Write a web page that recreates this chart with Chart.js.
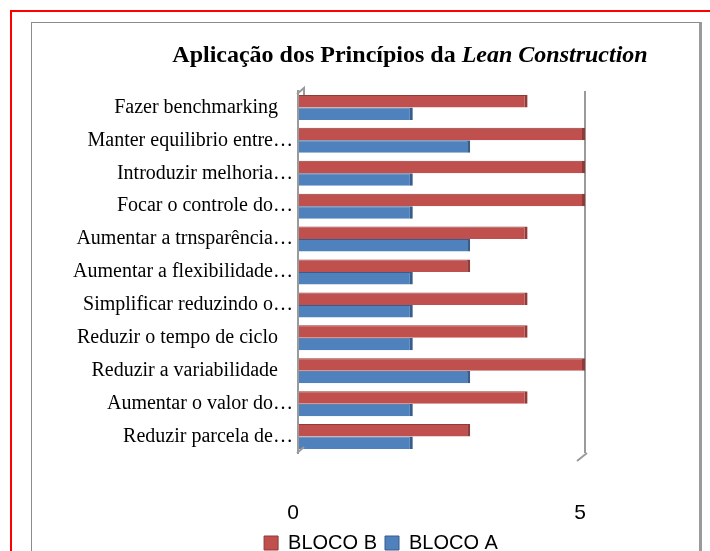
<!DOCTYPE html>
<html>
<head>
<meta charset="utf-8">
<script src="https://cdn.jsdelivr.net/npm/chart.js@4.4.1/dist/chart.umd.min.js"></script>
<style>
  html, body { margin: 0; padding: 0; background: #fff; }
  #wrap { position: relative; width: 710px; height: 551px; overflow: hidden; }
  #grafico { position: absolute; left: 0; top: 0; }
  .frame { position: absolute; pointer-events: none; }
  #redFrame { left: 10px; top: 10px; width: 800px; height: 800px; border: 2px solid #ff0000; }
  #grayFrame { left: 31px; top: 22px; width: 667px; height: 800px;
               border: 1px solid #8c8c8c; border-right: 3px solid #9a9a9a; }
</style>
</head>
<body>
<div id="wrap">
  <canvas id="grafico" width="710" height="551"></canvas>
  <div class="frame" id="redFrame"></div>
  <div class="frame" id="grayFrame"></div>
</div>
<script>
/* ===========================
   Dados
   =========================== */

const categorias = [
  "Fazer benchmarking   ",
  "Manter equilibrio entre…",
  "Introduzir melhoria…",
  "Focar o controle do…",
  "Aumentar a trnsparência…",
  "Aumentar a flexibilidade…",
  "Simplificar reduzindo o…",
  "Reduzir o tempo de ciclo   ",
  "Reduzir a variabilidade   ",
  "Aumentar o valor do…",
  "Reduzir parcela de…"
];

const blocoB = [4, 5, 5, 5, 4, 3, 4, 4, 5, 4, 3];
const blocoA = [2, 3, 2, 2, 3, 2, 2, 2, 3, 2, 2];

const eixoMin = 0;
const eixoMax = 5;
const eixoPasso = 5;

const tituloNormal = "Aplicação dos Princípios da ";
const tituloItalico = "Lean Construction";

/* ===========================
   Titulo com parte em italico
   =========================== */

const tituloPlugin = {
  id: "tituloMisto",
  afterDraw(chart) {
    const ctx = chart.ctx;
    ctx.save();
    ctx.fillStyle = "#000";
    ctx.textBaseline = "middle";
    const fNormal = "bold 24px 'Liberation Serif', 'Times New Roman', serif";
    const fItal = "italic bold 24px 'Liberation Serif', 'Times New Roman', serif";
    ctx.font = fNormal;
    const w1 = ctx.measureText(tituloNormal).width;
    ctx.font = fItal;
    const w2 = ctx.measureText(tituloItalico).width;
    const x = 410 - (w1 + w2) / 2;
    ctx.textAlign = "left";
    ctx.font = fNormal;
    ctx.fillText(tituloNormal, x, 56);
    ctx.font = fItal;
    ctx.fillText(tituloItalico, x + w1, 56);
    ctx.restore();
  }
};

/* ---------------------------
   cantos do "3D" (paredes)
   --------------------------- */

const paredesPlugin = {
  id: "paredes3d",
  afterDraw(chart) {
    const { ctx, chartArea: a } = chart;
    ctx.save();
    ctx.strokeStyle = "#9a9a9a";
    ctx.lineWidth = 2;
    ctx.beginPath();
    ctx.moveTo(a.left - 1, a.top + 3);
    ctx.lineTo(a.left + 6, a.top - 3);
    ctx.lineTo(a.left + 6, a.top + 4);
    ctx.moveTo(a.left - 1, a.bottom);
    ctx.lineTo(a.left + 6, a.bottom - 6);
    ctx.moveTo(a.right + 2, a.bottom);
    ctx.lineTo(a.right - 8, a.bottom + 8);
    ctx.stroke();
    ctx.restore();
  }
};

/* ===========================
   Grafico
   =========================== */

new Chart(document.getElementById("grafico"), {
  type: "bar",
  data: {
    labels: categorias,
    datasets: [
      {
        label: "BLOCO B",
        data: blocoB,
        backgroundColor: "#c0504d",
        borderColor: "#8e3b39",
        borderWidth: { top: 1, right: 3, bottom: 0, left: 0 },
        borderSkipped: false
      },
      {
        label: "BLOCO A",
        data: blocoA,
        backgroundColor: "#4f81bd",
        borderColor: "#385d8a",
        borderWidth: { top: 1, right: 3, bottom: 0, left: 0 },
        borderSkipped: false
      }
    ]
  },
  options: {
    indexAxis: "y",
    responsive: false,
    animation: false,
    layout: { padding: { left: 52, right: 0, top: 91, bottom: -12 } },
    datasets: {
      bar: { categoryPercentage: 0.76, barPercentage: 1.0 }
    },
    scales: {
      x: {
        min: eixoMin,
        max: eixoMax,
        ticks: {
          stepSize: eixoPasso,
          color: "#000",
          padding: 48,
          labelOffset: -5,
          font: { family: "'Liberation Sans', Arial, sans-serif", size: 21 }
        },
        grid: {
          drawTicks: false,
          lineWidth: 2,
          color: (c) => (c.tick && c.tick.value === eixoMax ? "#9a9a9a" : "rgba(0,0,0,0)")
        },
        border: { display: false },
        afterFit(scale) { scale.height = 72; }
      },
      y: {
        ticks: {
          color: "#000",
          padding: 5,
          autoSkip: false,
          font: { family: "'Liberation Serif', 'Times New Roman', serif", size: 20 }
        },
        grid: { display: false, drawTicks: false },
        border: { display: true, color: "#9a9a9a", width: 2 },
        afterFit(scale) { scale.width = 298 - 52; }
      },
      direita: {
        type: "category",
        position: "right",
        display: true,
        ticks: { display: false },
        grid: { display: false, drawTicks: false },
        border: { display: false },
        afterFit(scale) { scale.width = 710 - 585; }
      }
    },
    plugins: {
      title: { display: false },
      tooltip: { enabled: false },
      legend: {
        position: "bottom",
        labels: {
          color: "#000",
          boxWidth: 14,
          boxHeight: 14,
          padding: 8,
          font: { family: "'Liberation Sans', Arial, sans-serif", size: 20 }
        }
      }
    }
  },
  plugins: [tituloPlugin, paredesPlugin]
});
</script>
</body>
</html>
